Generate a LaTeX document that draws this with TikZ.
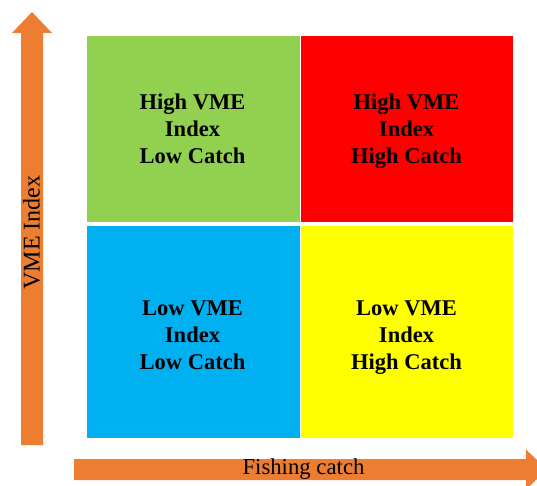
\documentclass[tikz,border=0pt]{standalone}
\usepackage{fontspec}
\setmainfont{Liberation Serif}
\definecolor{qgreen}{HTML}{92D050}
\definecolor{qred}{HTML}{FF0000}
\definecolor{qblue}{HTML}{00B0F0}
\definecolor{qyellow}{HTML}{FFFF00}
\definecolor{qorange}{HTML}{ED7D31}
\begin{document}
\begin{tikzpicture}[x=1pt,y=-1pt,
  quad/.style={draw=none,inner sep=0pt,minimum width=212.5pt},
  qtext/.style={inner sep=0pt,align=center,
    font=\fontsize{22.5}{27}\selectfont\bfseries},
  axlabel/.style={inner sep=0pt}]
\useasboundingbox (0,0) rectangle (537,486);
\begin{scope}
\clip (0,0) rectangle (537,486);
% vertical arrow
\fill[qorange] (21,445) -- (21,33) -- (12,33) -- (32,12) -- (52,33) -- (43,33) -- (43,445) -- cycle;
% horizontal arrow
\fill[qorange] (74,459) -- (526,459) -- (526,449.5) -- (547,469.5) -- (526,489.5) -- (526,480) -- (74,480) -- cycle;
\end{scope}
% quadrants
\node[quad,fill=qgreen,minimum height=186pt] (hl) at (193.25,129) {};
\node[quad,fill=qred,minimum height=186pt] (hh) at (406.75,129) {};
\node[quad,fill=qblue,minimum height=212pt] (ll) at (193.25,332) {};
\node[quad,fill=qyellow,minimum height=212pt] (lh) at (406.75,332) {};
% quadrant texts
\node[qtext] (thl) at (192.5,131.5) {High VME\\Index\\Low Catch\vphantom{g}};
\node[qtext] (thh) at (406.5,131.5) {High VME\\Index\\High Catch};
\node[qtext] (tll) at (192.5,337.5) {Low VME\\Index\\Low Catch\vphantom{g}};
\node[qtext] (tlh) at (406.5,337.5) {Low VME\\Index\\High Catch};
% axis labels
\node[axlabel,rotate=90,font=\fontsize{24}{28}\selectfont] (ylab) at (31.5,232.5) {VME Index};
\node[axlabel,font=\fontsize{22.75}{27}\selectfont] (xlab) at (303.5,469.5) {Fishing catch};
\end{tikzpicture}
\end{document}
